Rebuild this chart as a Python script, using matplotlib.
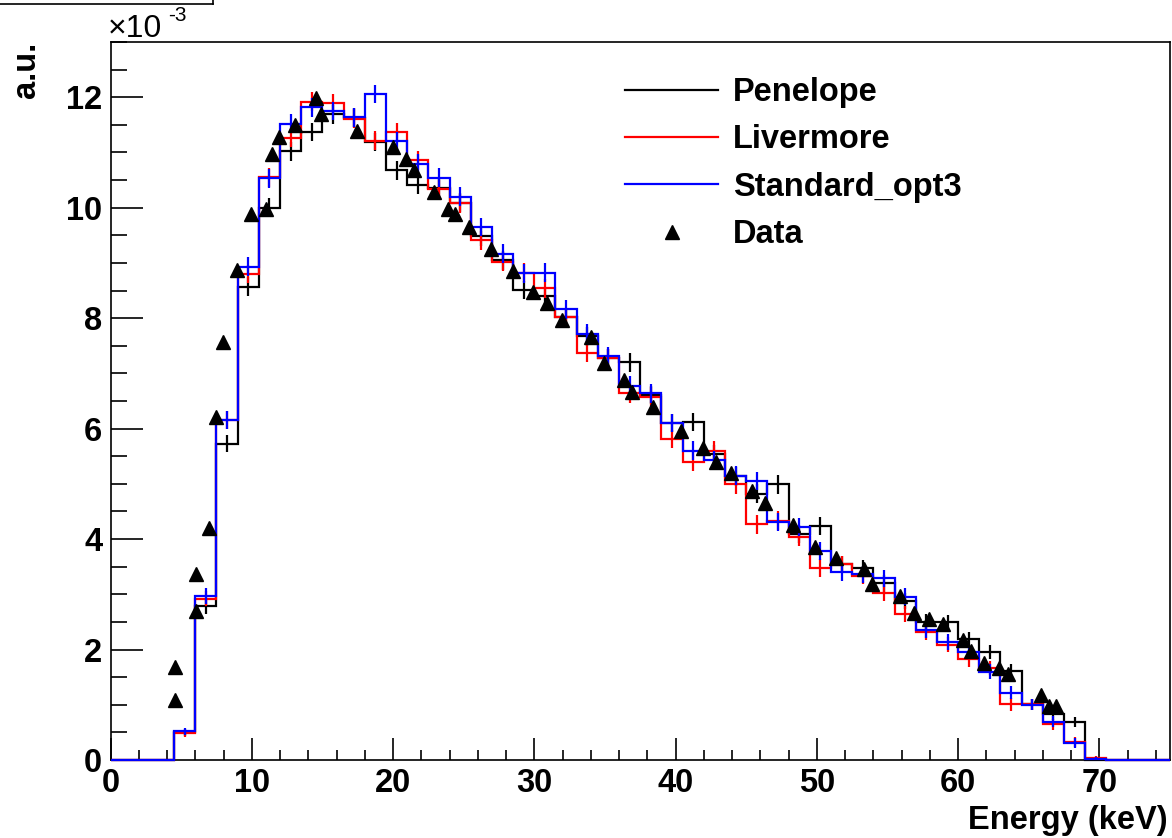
import numpy as np
import matplotlib
matplotlib.use("Agg")
import matplotlib.pyplot as plt
from matplotlib.lines import Line2D
from matplotlib.ticker import MultipleLocator

# ---------------- data (values in units of 1e-3, a.u.) ----------------
bin_width = 1.5          # keV
e_min, e_max = 0.0, 75.0 # histogram range (keV)

# 50 bins of 1.5 keV from 0 to 75 keV
penelope = [0, 0, 0,
            0.50, 2.78, 5.73, 8.57, 10.00, 11.02, 11.37, 11.69, 11.63, 11.19,
            10.68, 10.41, 10.35, 10.09, 9.48, 9.05, 8.51, 8.40, 8.02, 7.67,
            7.27, 7.20, 6.61, 6.10, 6.12, 5.54, 5.14, 4.82, 4.99, 4.09,
            4.24, 3.54, 3.48, 3.20, 2.88, 2.50, 2.49, 2.19, 1.96, 1.62,
            1.01, 0.83, 0.68, 0.0,
            0, 0, 0]
livermore = [0, 0, 0,
             0.48, 2.92, 6.15, 8.80, 10.55, 11.27, 11.92, 11.89, 11.61, 11.21,
             11.37, 10.86, 10.33, 10.08, 9.41, 9.02, 8.82, 8.54, 8.02, 7.37,
             7.27, 6.64, 6.58, 5.81, 5.40, 5.60, 4.99, 4.27, 4.33, 4.03,
             3.48, 3.54, 3.33, 3.03, 2.64, 2.31, 2.09, 1.82, 1.66, 1.01,
             1.01, 0.65, 0.33, 0.04,
             0, 0, 0]
standard_opt3 = [0, 0, 0,
                 0.52, 2.97, 6.16, 8.93, 10.53, 11.52, 11.82, 11.75, 11.64, 12.06,
                 11.20, 10.80, 10.54, 10.20, 9.65, 9.17, 8.81, 8.82, 8.16, 7.72,
                 7.31, 6.78, 6.64, 6.10, 5.60, 5.43, 5.15, 5.05, 4.31, 4.22,
                 3.79, 3.40, 3.36, 3.29, 2.96, 2.35, 2.14, 1.96, 1.60, 1.22,
                 1.00, 0.69, 0.31, 0.02,
                 0, 0, 0]
# bin errors (shared by the three simulations)
mc_err = [0, 0, 0,
          0.06, 0.14, 0.16, 0.17, 0.17, 0.17, 0.17, 0.17, 0.17, 0.17,
          0.17, 0.17, 0.17, 0.17, 0.17, 0.17, 0.17, 0.17, 0.17, 0.17,
          0.17, 0.17, 0.17, 0.17, 0.17, 0.17, 0.17, 0.17, 0.17, 0.16,
          0.16, 0.15, 0.15, 0.15, 0.15, 0.14, 0.14, 0.13, 0.13, 0.12,
          0.10, 0.10, 0.09, 0.03,
          0, 0, 0]

data_e = [4.55, 4.55, 6.03, 6.03, 6.97, 7.49, 7.96, 8.94, 9.96, 11.0,
          11.4, 11.95, 13.06, 14.54, 14.9, 17.45, 20.0, 20.93, 21.47, 22.88,
          23.87, 24.37, 25.35, 26.95, 28.48, 29.94, 30.9, 31.93, 34.0, 34.94,
          36.35, 36.94, 38.4, 40.4, 41.93, 42.87, 43.93, 45.42, 46.33, 48.3,
          49.85, 51.33, 53.33, 53.92, 55.9, 56.9, 57.93, 58.91, 60.36, 60.91,
          61.84, 62.93, 63.5, 65.86, 66.45, 66.93]
data_v = [1.08, 1.68, 2.69, 3.37, 4.20, 6.21, 7.57, 8.88, 9.88, 9.97,
          10.98, 11.28, 11.49, 11.98, 11.70, 11.39, 11.09, 10.88, 10.68, 10.29,
          9.97, 9.88, 9.65, 9.26, 8.86, 8.48, 8.27, 7.96, 7.66, 7.18,
          6.88, 6.67, 6.39, 5.96, 5.64, 5.40, 5.19, 4.87, 4.66, 4.26,
          3.86, 3.66, 3.45, 3.18, 2.97, 2.66, 2.55, 2.46, 2.18, 1.98,
          1.76, 1.66, 1.56, 1.17, 0.97, 0.97]

series_names = ["Penelope", "Livermore", "Standard_opt3"]
series_colors = ["#000000", "#ff0000", "#0000ff"]
x_ticks = [0, 10, 20, 30, 40, 50, 60, 70]
y_ticks = [0, 2, 4, 6, 8, 10, 12]

# ---------------- figure ----------------
plt.rcParams["font.family"] = ["Liberation Sans", "DejaVu Sans"]
plt.rcParams["font.weight"] = "bold"

W, H = 1172, 838
fig = plt.figure(figsize=(W / 100, H / 100), dpi=100)
ax = fig.add_axes([110.5 / W, 1 - 760 / H, (1170 - 110.5) / W, (760 - 42) / H])

edges = np.arange(e_min, e_max + bin_width / 2, bin_width)
centers = 0.5 * (edges[:-1] + edges[1:])
err = np.array(mc_err)

for vals, col in zip([penelope, livermore, standard_opt3], series_colors):
    v = np.array(vals)
    ax.stairs(v, edges, color=col, lw=1.6, baseline=None, clip_on=False, zorder=3)
    nz = v > 0
    ax.errorbar(centers[nz], v[nz], yerr=err[nz], fmt="none", ecolor=col,
                elinewidth=1.6, capsize=0, zorder=3)

ax.plot(data_e, data_v, linestyle="none", marker="^", color="black",
        markersize=9.5, zorder=4)

ax.set_xlim(e_min, e_max)
ax.set_ylim(0, 13)
ax.set_xticks(x_ticks)
ax.set_yticks(y_ticks)
ax.xaxis.set_minor_locator(MultipleLocator(2))
ax.yaxis.set_minor_locator(MultipleLocator(0.5))
ax.tick_params(axis="both", which="both", direction="in", width=1.2,
               top=False, right=False, labelsize=23.5, colors="black")
ax.tick_params(axis="y", which="major", length=23, pad=6)
ax.tick_params(axis="y", which="minor", length=11.5)
ax.tick_params(axis="x", which="major", length=16, pad=6)
ax.tick_params(axis="x", which="minor", length=7.5)
for lab in ax.get_xticklabels() + ax.get_yticklabels():
    lab.set_fontweight("bold")
for sp in ax.spines.values():
    sp.set_linewidth(1.2)

# axis titles
fig.text(1168 / W, 1 - 820 / H, "Energy (keV)", ha="right", va="center",
         fontsize=23.5, fontweight="bold")
fig.text(27 / W, 1 - 42 / H, "a.u.", rotation=90, ha="center", va="top",
         fontsize=23.5, fontweight="bold")
# exponent
fig.text(108 / W, 1 - 37 / H, "\u00d710", ha="left", va="baseline",
         fontsize=23, fontweight="normal")
fig.text(168 / W, 1 - 21 / H, "-3", ha="left", va="baseline",
         fontsize=15, fontweight="normal")

# partial title box at the top left
fig.add_artist(Line2D([0, 212.5 / W], [1 - 4 / H, 1 - 4 / H], color="black", lw=1.2))
fig.add_artist(Line2D([212.5 / W, 212.5 / W], [1 - 4 / H, 1.0], color="black", lw=1.2))

# legend
handles = [Line2D([], [], color=c, lw=1.6) for c in series_colors]
handles.append(Line2D([], [], linestyle="none", marker="^", color="black", markersize=9.5))
labels = series_names + ["Data"]
leg = fig.legend(handles, labels, loc="upper left",
                 bbox_to_anchor=(625 / W, 1 - 77 / H), frameon=False,
                 fontsize=23.5, handlelength=2.85, handletextpad=0.45,
                 labelspacing=0.5, borderaxespad=0, borderpad=0)
for t in leg.get_texts():
    t.set_fontweight("bold")

fig.savefig("out.png", dpi=100)
